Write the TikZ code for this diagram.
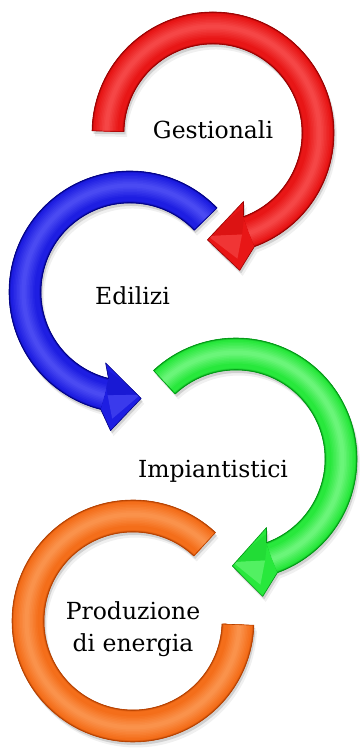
\documentclass[tikz,border=0pt]{standalone}
\usepackage{fontspec}
\setmainfont{DejaVu Serif}
\usetikzlibrary{calc}
\definecolor{redmn}{RGB}{232,22,22}
\definecolor{reddk}{RGB}{150,0,0}
\definecolor{redlt}{RGB}{255,110,110}
\definecolor{blumn}{RGB}{30,30,226}
\definecolor{bludk}{RGB}{0,0,130}
\definecolor{blult}{RGB}{110,110,255}
\definecolor{grnmn}{RGB}{40,232,60}
\definecolor{grndk}{RGB}{0,150,20}
\definecolor{grnlt}{RGB}{160,255,170}
\definecolor{ormn}{RGB}{244,110,26}
\definecolor{ordk}{RGB}{180,64,0}
\definecolor{orlt}{RGB}{255,175,115}
% a0, a1, outer barb, tip, inner barb
\newcommand\arrowshape[5]{(#1:121) arc[start angle=#1, end angle=#2, radius=121] -- (#3:140) -- (#4:107) -- (#5:75) -- (#2:89) arc[start angle=#2, end angle=#1, radius=89] -- cycle}
\newcommand\ringshape[2]{(#1:121) arc[start angle=#1, end angle=#2, radius=121] -- (#2:89) arc[start angle=#2, end angle=#1, radius=89] -- cycle}
\newcommand\headshape[4]{(#1:121) -- (#2:140) -- (#3:107) -- (#4:75) -- (#1:89) -- cycle}
\tikzset{
  lbl/.style={font=\fontsize{23.5}{32}\selectfont, inner sep=0pt, text=black},
  shadowA/.style={fill=black, opacity=0.13},
  shadowB/.style={fill=black, opacity=0.06},
  outline/.style={line width=0.6pt, line join=round},
}
% tube bands along the shaft: args a0 a1 colour prefix
\newcommand\tubebands[3]{%
  \foreach \w/\p in {32/0,31.2/30,30.4/55,29.6/75,28.8/90,28/100}
    \draw[line width=\w pt, #3mn!\p!#3dk] (#1:105) arc[start angle=#1, end angle=#2, radius=105];
  \foreach \w/\p in {22/8,19/16,16/24,13/32,10/40,7/48,4/55}
    \draw[line width=\w pt, #3lt!\p!#3mn] (#1:106.5) arc[start angle=#1, end angle=#2, radius=106.5];
}
\newcommand\tubearrow[8]{% cx cy a0 a1 bo tip bi colorprefix
  \begin{scope}[shift={(#1,#2)}]
    \begin{scope}[shift={(1.5,-3)}]\fill[shadowA] \arrowshape{#3}{#4}{#5}{#6}{#7};\end{scope}
    \begin{scope}[shift={(3,-5.5)}]\fill[shadowB] \arrowshape{#3}{#4}{#5}{#6}{#7};\end{scope}
    \fill[#8mn] \arrowshape{#3}{#4}{#5}{#6}{#7};
    \tubebands{#3}{#4}{#8}
    \begin{scope}
      \clip \headshape{#4}{#5}{#6}{#7};
      \fill[#8mn!65!#8lt] (#6:103) -- ($(#5:130)!0.5!(#7:82)$) -- (#5:128) -- cycle;
      \fill[#8mn!85!#8dk] (#6:103) -- ($(#5:130)!0.5!(#7:82)$) -- (#7:80) -- cycle;
    \end{scope}
    \draw[#8dk, outline] \arrowshape{#3}{#4}{#5}{#6}{#7};
  \end{scope}}
\begin{document}
\begin{tikzpicture}[x=1pt,y=1pt]
\useasboundingbox[fill=white] (0,0) rectangle (359,749);
% orange ring
\begin{scope}[shift={(133,128)}]
  \begin{scope}[shift={(1.5,-3)}]\fill[shadowA] \ringshape{47}{358};\end{scope}
  \begin{scope}[shift={(3,-5.5)}]\fill[shadowB] \ringshape{47}{358};\end{scope}
  \fill[ormn] \ringshape{47}{358};
  \tubebands{47}{358}{or}
  \draw[ordk, outline] \ringshape{47}{358};
\end{scope}
\tubearrow{236}{290}{133}{-70}{-79}{-92}{-66}{grn}
\tubearrow{130}{457}{44}{256}{262}{276}{251}{blu}
\tubearrow{213}{616}{179}{-70}{-79}{-93}{-66}{red}
\node[lbl, anchor=base] (gest) at (213,610) {Gestionali};
\node[lbl, anchor=base] (edil) at (132.5,444) {Edilizi};
\node[lbl, anchor=base] (impi) at (213,271) {Impiantistici};
\node[lbl, align=center] (prod) at (133,119.5) {Produzione\\di energia};
\end{tikzpicture}
\end{document}
